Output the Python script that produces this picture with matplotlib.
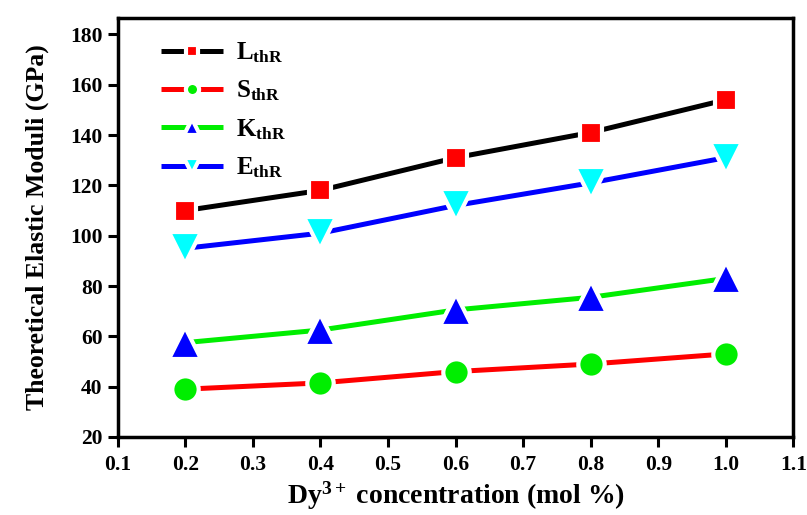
import matplotlib
matplotlib.use("Agg")
import matplotlib.pyplot as plt

conc = [0.2, 0.4, 0.6, 0.8, 1.0]
L_thR = [110, 118, 131, 141, 154]
S_thR = [39, 41.5, 46, 49, 53]
K_thR = [57.5, 62.5, 70.5, 75.5, 83]
E_thR = [95, 101, 112, 121, 131]

xticks = [0.1, 0.2, 0.3, 0.4, 0.5, 0.6, 0.7, 0.8, 0.9, 1.0, 1.1]
yticks = [20, 40, 60, 80, 100, 120, 140, 160, 180]

plt.rcParams['font.family'] = 'Liberation Serif'
plt.rcParams['font.weight'] = 'bold'
plt.rcParams['mathtext.fontset'] = 'custom'
plt.rcParams['mathtext.rm'] = 'Liberation Serif:bold'
plt.rcParams['mathtext.bf'] = 'Liberation Serif:bold'
plt.rcParams['mathtext.it'] = 'Liberation Serif:bold'

fig = plt.figure(figsize=(8.07, 5.15), dpi=100)
ax = fig.add_axes([0.146, 0.1515, 0.837, 0.8135])

series = [
    (L_thR, 'black', 's', 'red', 16.5, r'$\mathbf{L_{thR}}$'),
    (S_thR, 'red', 'o', '#00ee00', 19, r'$\mathbf{S_{thR}}$'),
    (K_thR, '#00ee00', '^', 'blue', 23, r'$\mathbf{K_{thR}}$'),
    (E_thR, 'blue', 'v', 'cyan', 23, r'$\mathbf{E_{thR}}$'),
]
for vals, lc, m, mc, ms, lab in series:
    ax.plot(conc, vals, color=lc, lw=3.6, marker=m, markersize=ms,
            markerfacecolor=mc, markeredgecolor='white', markeredgewidth=3,
            label=lab, solid_capstyle='butt')

ax.set_xlim(0.1, 1.1)
ax.set_ylim(20, 186.5)
ax.set_xticks(xticks)
ax.set_xticklabels([f'{t:.1f}' for t in xticks])
ax.set_yticks(yticks)
ax.tick_params(axis='both', direction='out', length=7, width=2.2, labelsize=15.5,
               top=False, right=False)
ax.tick_params(axis='x', pad=6)
ax.tick_params(axis='y', pad=4)
for lab in ax.get_xticklabels() + ax.get_yticklabels():
    lab.set_fontweight('bold')
for sp in ax.spines.values():
    sp.set_linewidth(2.5)

ax.set_xlabel(r'Dy$^{\mathbf{3+}}$ concentration (mol %)', fontsize=20,
              fontweight='bold', labelpad=3)
ax.set_ylabel('Theoretical Elastic Moduli (GPa)', fontsize=18.5,
              fontweight='bold', labelpad=15)

leg = ax.legend(loc='upper left', frameon=False, fontsize=18, markerscale=0.5,
                handlelength=2.5, labelspacing=0.55, bbox_to_anchor=(0.03, 1.0),
                handletextpad=0.5)

fig.savefig('out.png', dpi=100)
